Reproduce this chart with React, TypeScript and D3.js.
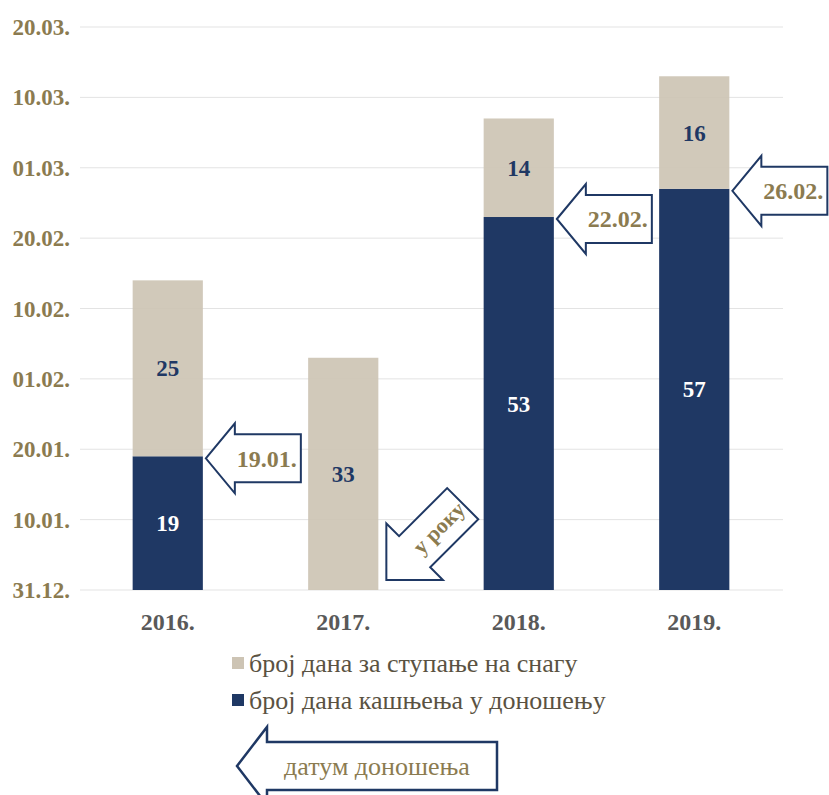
import { useEffect, useRef } from 'react';
import * as d3 from 'd3';

const years = ['2016.', '2017.', '2018.', '2019.'];
const delayDays = [19, 0, 53, 57];
const entryDays = [25, 33, 14, 16];
const yTickValues = [0, 10, 20, 30, 40, 50, 60, 70, 80];
const yTickLabels = ['31.12.', '10.01.', '20.01.', '01.02.', '10.02.', '20.02.', '01.03.', '10.03.', '20.03.'];
const legendLabels = ['број дана за ступање на снагу', 'број дана кашњења у доношењу'];
const calloutYears = ['2016.', '2018.', '2019.'];
const calloutLabels = ['19.01.', '22.02.', '26.02.'];

const W = 829;
const H = 795;
const BEIGE = '#cdc4b4';
const NAVY = '#1f3864';
const GOLD = '#8b7b50';
const FONT = "'Liberation Serif', 'Times New Roman', serif";

// left pointing block arrow, tip at 0,0
const arrowPath = (len: number, head: number, headHalf: number, shaftHalf: number) =>
  `M0,0 L${head},${-headHalf} L${head},${-shaftHalf} L${len},${-shaftHalf} L${len},${shaftHalf} L${head},${shaftHalf} L${head},${headHalf} Z`;

const App = () => {
  const ref = useRef<SVGSVGElement | null>(null);

  useEffect(() => {
    document.body.style.margin = '0';
    const svg = d3.select(ref.current);
    svg.selectAll('*').remove();
    svg.style('font-family', FONT);

    const x = d3.scaleBand<string>().domain(years).range([80, 782]).paddingInner(0.6).paddingOuter(0.3);
    const y = d3.scaleLinear().domain([0, 80]).range([590, 27]);

    // gridlines
    svg.append('g')
      .selectAll('line')
      .data(yTickValues)
      .join('line')
      .attr('x1', 80).attr('x2', 783)
      .attr('y1', d => y(d)).attr('y2', d => y(d))
      .attr('stroke', '#e3e3e3').attr('stroke-width', 1);

    // y labels
    svg.append('g')
      .selectAll('text')
      .data(yTickValues)
      .join('text')
      .attr('x', 70).attr('y', d => y(d))
      .attr('dy', '0.35em')
      .attr('text-anchor', 'end')
      .style('font-family', FONT).attr('font-weight', 'bold').attr('font-size', 23)
      .attr('fill', GOLD)
      .text((d, i) => yTickLabels[i]);

    const rows = years.map((yr, i) => ({ yr, delay: delayDays[i], entry: entryDays[i] }));
    const bars = svg.append('g');

    bars.selectAll('rect.delay')
      .data(rows.filter(r => r.delay > 0))
      .join('rect')
      .attr('class', 'delay')
      .attr('x', d => x(d.yr) as number).attr('width', x.bandwidth())
      .attr('y', d => y(d.delay)).attr('height', d => y(0) - y(d.delay))
      .attr('fill', NAVY);

    bars.selectAll('rect.entry')
      .data(rows)
      .join('rect')
      .attr('class', 'entry')
      .attr('x', d => x(d.yr) as number).attr('width', x.bandwidth())
      .attr('y', d => y(d.delay + d.entry)).attr('height', d => y(d.delay) - y(d.delay + d.entry))
      .attr('fill', BEIGE).attr('fill-opacity', 0.92);

    // value labels
    bars.selectAll('text.delay')
      .data(rows.filter(r => r.delay > 0))
      .join('text')
      .attr('class', 'delay')
      .attr('x', d => (x(d.yr) as number) + x.bandwidth() / 2)
      .attr('y', d => y(d.delay / 2))
      .attr('dy', '0.35em').attr('text-anchor', 'middle')
      .style('font-family', FONT).attr('font-weight', 'bold').attr('font-size', 23)
      .attr('fill', '#ffffff')
      .text(d => d.delay);

    bars.selectAll('text.entry')
      .data(rows)
      .join('text')
      .attr('class', 'entry')
      .attr('x', d => (x(d.yr) as number) + x.bandwidth() / 2)
      .attr('y', d => y(d.delay + d.entry / 2))
      .attr('dy', '0.35em').attr('text-anchor', 'middle')
      .style('font-family', FONT).attr('font-weight', 'bold').attr('font-size', 23)
      .attr('fill', NAVY)
      .text(d => d.entry);

    // x labels
    svg.append('g')
      .selectAll('text')
      .data(years)
      .join('text')
      .attr('x', d => (x(d) as number) + x.bandwidth() / 2)
      .attr('y', 630)
      .attr('text-anchor', 'middle')
      .style('font-family', FONT).attr('font-weight', 'bold').attr('font-size', 24)
      .attr('fill', '#595959')
      .text(d => d);

    // callout arrows
    const callouts = calloutYears.map((yr, i) => ({ yr, label: calloutLabels[i], value: delayDays[years.indexOf(yr)] }));
    const cg = svg.append('g')
      .selectAll('g')
      .data(callouts)
      .join('g')
      .attr('transform', d => `translate(${(x(d.yr) as number) + x.bandwidth() + 3},${y(d.value) + 2})`);
    cg.append('path')
      .attr('d', arrowPath(95, 29, 35, 24))
      .attr('fill', '#fff').attr('stroke', NAVY).attr('stroke-width', 2).attr('stroke-linejoin', 'miter');
    cg.append('text')
      .attr('x', 61).attr('dy', '0.35em').attr('text-anchor', 'middle')
      .style('font-family', FONT).attr('font-weight', 'bold').attr('font-size', 24)
      .attr('fill', GOLD)
      .text(d => d.label);

    // "у року" arrow for 2017
    const onTime = svg.append('g')
      .attr('transform', `translate(${(x('2017.') as number) + x.bandwidth() + 8},${y(0) - 10}) rotate(-45)`);
    onTime.append('path')
      .attr('d', arrowPath(108, 40, 40, 22))
      .attr('fill', '#fff').attr('stroke', NAVY).attr('stroke-width', 2);
    onTime.append('text')
      .attr('x', 74).attr('dy', '0.35em').attr('text-anchor', 'middle')
      .style('font-family', FONT).attr('font-weight', 'bold').attr('font-size', 22)
      .attr('fill', GOLD)
      .text('у року');

    // legend
    const legendColors = [BEIGE, NAVY];
    const lg = svg.append('g')
      .selectAll('g')
      .data(legendLabels)
      .join('g')
      .attr('transform', (d, i) => `translate(232,${663 + i * 37})`);
    lg.append('rect')
      .attr('x', 0).attr('y', -6).attr('width', 12).attr('height', 12)
      .attr('fill', (d, i) => legendColors[i]);
    lg.append('text')
      .attr('x', 17).attr('dy', '0.35em')
      .style('font-family', FONT).attr('font-size', 26)
      .attr('fill', '#5a5242')
      .text(d => d);

    // bottom arrow
    const bottom = svg.append('g').attr('transform', 'translate(237,766)');
    bottom.append('path')
      .attr('d', arrowPath(260, 30, 39, 24))
      .attr('fill', '#fff').attr('stroke', NAVY).attr('stroke-width', 2.5);
    bottom.append('text')
      .attr('x', 140).attr('dy', '0.35em').attr('text-anchor', 'middle')
      .style('font-family', FONT).attr('font-size', 26)
      .attr('fill', GOLD)
      .text('датум доношења');
  }, []);

  return <svg ref={ref} width={W} height={H} style={{ display: 'block', background: '#fff' }}></svg>;
};

export default App;
